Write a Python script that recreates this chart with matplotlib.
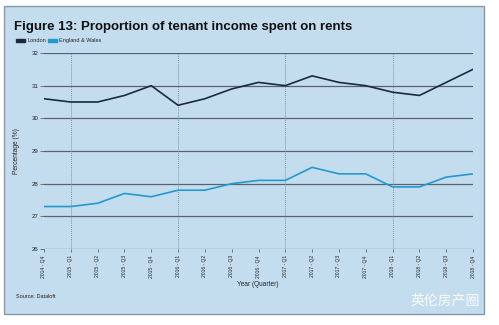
import numpy as np
import matplotlib.pyplot as plt
from matplotlib.patches import Rectangle

plt.rcParams['font.family'] = ['Liberation Sans', 'DejaVu Sans']

quarters = ["2014 - Q4",
            "2015 - Q1", "2015 - Q2", "2015 - Q3", "2015 - Q4",
            "2016 - Q1", "2016 - Q2", "2016 - Q3", "2016 - Q4",
            "2017 - Q1", "2017 - Q2", "2017 - Q3", "2017 - Q4",
            "2018 - Q1", "2018 - Q2", "2018 - Q3", "2018 - Q4"]
london = [30.6, 30.5, 30.5, 30.7, 31.0, 30.4, 30.6, 30.9, 31.1,
          31.0, 31.3, 31.1, 31.0, 30.8, 30.7, 31.1, 31.5]
eng_wales = [27.3, 27.3, 27.4, 27.7, 27.6, 27.8, 27.8, 28.0, 28.1,
             28.1, 28.5, 28.3, 28.3, 27.9, 27.9, 28.2, 28.3]
yticks = [26, 27, 28, 29, 30, 31, 32]

W, H = 499, 325
bg = "#c3ddef"
c_london = "#1b2a3d"
c_ew = "#2399cf"
grid_c = "#5a636b"

fig = plt.figure(figsize=(W / 100, H / 100), dpi=100)
fig.patch.set_facecolor("white")

# panel behind everything
fig.patches.append(Rectangle((4 / W, 1 - 314 / H), 480 / W, 308 / H,
                             transform=fig.transFigure, facecolor=bg,
                             edgecolor="#8a98a6", linewidth=1.0, zorder=-10))

ax = fig.add_axes([44 / W, 1 - 249 / H, 429 / W, 196 / H])
ax.set_facecolor("none")
x = np.arange(len(quarters))

for y in yticks:
    ax.axhline(y, color=grid_c, lw=0.9, zorder=1)
for i, q in enumerate(quarters):
    if q.endswith("Q1"):
        ax.axvline(i, color="#7f93a6", lw=0.7, ls=(0, (1, 1)), zorder=1)

ax.plot(x, london, color=c_london, lw=1.2, zorder=3)
ax.plot(x, eng_wales, color=c_ew, lw=1.2, zorder=3)

ax.set_xlim(0, len(quarters) - 1)
ax.set_ylim(26, 32)
ax.set_yticks(yticks)
ax.set_xticks(x)
ax.set_xticklabels(quarters, rotation=90, fontsize=3.6, color="#222222")
ax.tick_params(axis="y", labelsize=4.4, length=3, width=0.6, color=grid_c,
               labelcolor="#222222", pad=1)
ax.tick_params(axis="x", length=2.5, width=0.6, color=grid_c, pad=2)
for s in ax.spines.values():
    s.set_visible(False)

ax.set_ylabel("Percentage (%)", fontsize=4.8, color="#222222", labelpad=8)
ax.set_xlabel("Year (Quarter)", fontsize=4.7, color="#222222")
ax.xaxis.set_label_coords(0.499, -0.163)

fig.text(14 / W, 1 - 27 / H, "Figure 13: Proportion of tenant income spent on rents",
         fontsize=9.5, fontweight="bold", color="#111111", va="center")

# legend
fig.patches.append(Rectangle((16 / W, 1 - 42 / H), 9 / W, 3.5 / H,
                             transform=fig.transFigure, color=c_london))
fig.text(27 / W, 1 - 40.5 / H, "London", fontsize=4, va="center", color="#222222")
fig.patches.append(Rectangle((48 / W, 1 - 42 / H), 9 / W, 3.5 / H,
                             transform=fig.transFigure, color=c_ew))
fig.text(59 / W, 1 - 40.5 / H, "England & Wales", fontsize=4, va="center",
         color="#222222")

fig.text(16 / W, 1 - 297 / H, "Source: Dataloft", fontsize=4, va="center",
         color="#222222")

fig.text(480 / W, 1 - 300 / H, "英伦房产圈", fontsize=10, ha="right", va="center",
         color="white", family=["Noto Sans CJK SC", "DejaVu Sans"], alpha=0.9)

fig.savefig("out.png", dpi=100)
